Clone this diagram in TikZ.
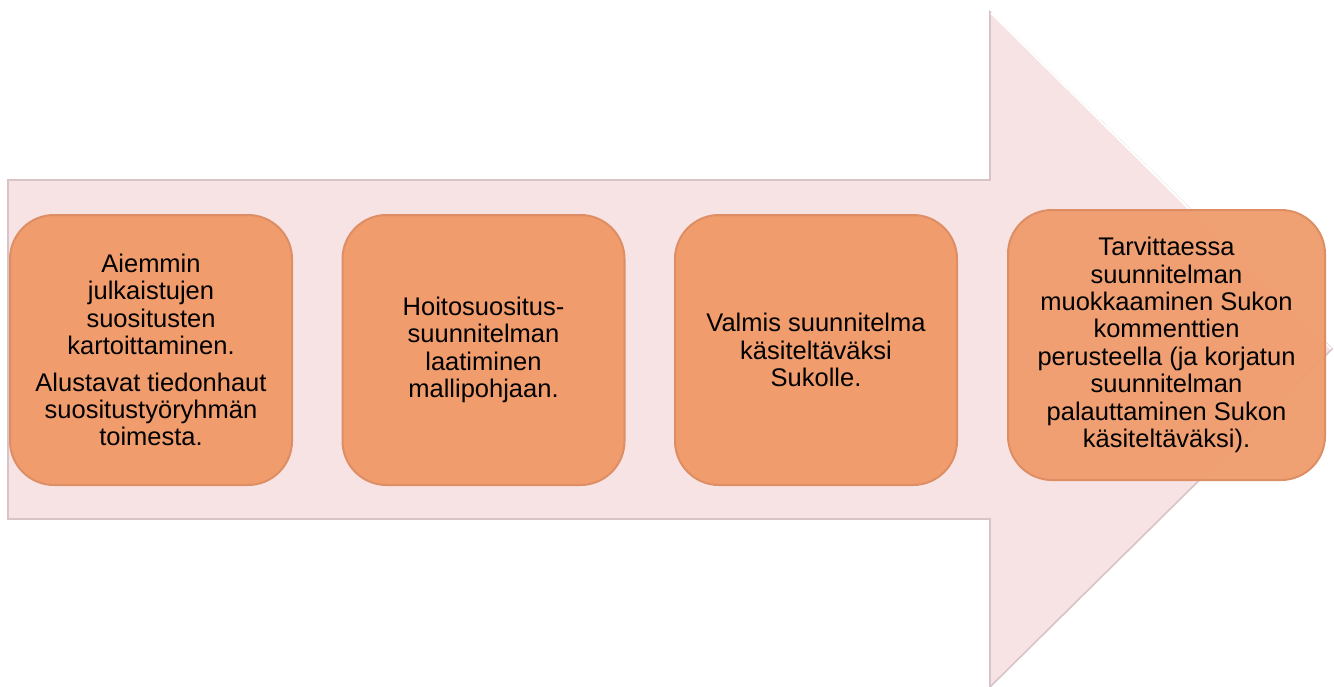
\documentclass[tikz,border=0pt]{standalone}
\usepackage{fontspec}
\setmainfont{Liberation Sans}
\definecolor{arrowfill}{RGB}{247,227,228}
\definecolor{arrowedge}{RGB}{216,196,199}
\definecolor{boxfill}{RGB}{240,156,108}
\definecolor{rimdark}{RGB}{206,130,92}
\definecolor{rimlight}{RGB}{253,184,128}
\definecolor{boxline}{RGB}{222,142,100}
\pgfdeclarehorizontalshading{boxshade}{100bp}{color(0bp)=(rimdark); color(3bp)=(boxfill); color(96bp)=(boxfill); color(100bp)=(rimlight)}
\begin{document}
\begin{tikzpicture}[x=0.5pt,y=-0.5pt,
  stepbox/.style={rectangle, rounded corners=22pt, shading=boxshade, draw=boxline, line width=1pt,
    minimum width=141pt, minimum height=135pt, align=center, inner sep=0pt,
    font=\fontsize{12.75}{13.7}\selectfont},
  bigarrow/.style={fill=arrowfill, draw=arrowedge, line width=0.8pt, line join=miter}
]
\useasboundingbox (0,0) rectangle (1334,686);
\fill[white] (0,0) rectangle (1334,686);
\draw[bigarrow] (8,180) -- (990,180) -- (990,12) -- (1332,349) -- (990,687) -- (990,519) -- (8,519) -- cycle;
\draw[white, line width=1pt] (991,13) -- (1331,349);

\node[stepbox] (b1) at (151,350) {Aiemmin\\julkaistujen\\suositusten\\kartoittaminen.\\[4.5pt]Alustavat tiedonhaut\\suositustyöryhmän\\toimesta.};
\node[stepbox] (b2) at (483.5,350) {Hoitosuositus-\\suunnitelman\\laatiminen\\mallipohjaan.};
\node[stepbox] (b3) at (816,350) {Valmis suunnitelma\\käsiteltäväksi\\Sukolle.};
\node[stepbox, minimum width=158.5pt, fill opacity=0.95, text opacity=1] (b4) at (1166.5,345) {Tarvittaessa\\suunnitelman\\muokkaaminen Sukon\\kommenttien\\perusteella (ja korjatun\\suunnitelman\\palauttaminen Sukon\\käsiteltäväksi).};
\end{tikzpicture}
\end{document}
